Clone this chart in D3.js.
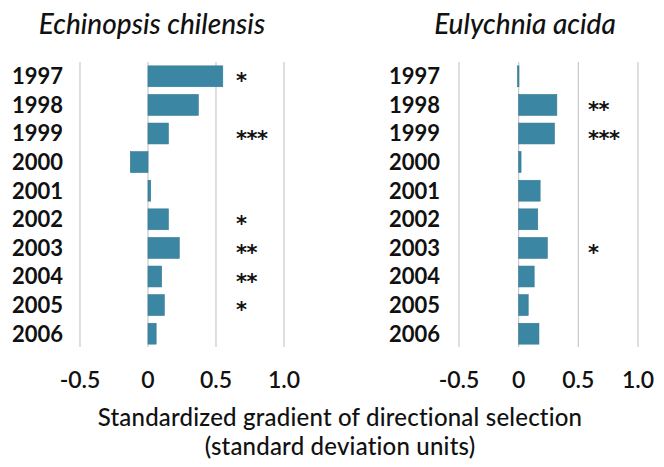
<!DOCTYPE html>
<html>
<head>
<meta charset="utf-8">
<script src="https://cdn.jsdelivr.net/npm/d3@7"></script>
<style>
  html, body { margin: 0; padding: 0; background: #fff; }
  svg { display: block; }
  text { font-family: Lato, "Open Sans", sans-serif; fill: #111; }
</style>
</head>
<body>
<svg id="chart" width="664" height="467"></svg>
<script>
const years = ["1997","1998","1999","2000","2001","2002","2003","2004","2005","2006"];
const echinopsisValues = [0.55, 0.37, 0.15, -0.13, 0.02, 0.15, 0.23, 0.10, 0.12, 0.06];
const echinopsisStars  = ["*", "", "***", "", "", "*", "**", "**", "*", ""];
const eulychniaValues  = [-0.01, 0.32, 0.30, 0.02, 0.18, 0.16, 0.24, 0.13, 0.08, 0.17];
const eulychniaStars   = ["", "**", "***", "", "", "", "*", "", "", ""];
const tickValues = [-0.5, 0, 0.5, 1.0];
const tickLabels = ["-0.5", "0", "0.5", "1.0"];
const panelTitles = ["Echinopsis chilensis", "Eulychnia acida"];
const axisTitle = ["Standardized gradient of directional selection", "(standard deviation units)"];

const svg = d3.select("#chart");
const barColor = "#3b87a3";

const y = d3.scaleBand().domain(years).range([62, 348]).paddingInner(0.27).paddingOuter(0.135);

const panels = [
  { title: panelTitles[0], values: echinopsisValues, stars: echinopsisStars,
    range: [80, 284], labelX: 63, starX: 236, titleX: 152 },
  { title: panelTitles[1], values: eulychniaValues, stars: eulychniaStars,
    range: [459, 638], labelX: 440, starX: 588, titleX: 525 }
];

panels.forEach(p => {
  const x = d3.scaleLinear().domain([-0.5, 1.0]).range(p.range);
  const g = svg.append("g");

  g.selectAll("line.grid").data(tickValues).join("line")
    .attr("x1", d => x(d)).attr("x2", d => x(d))
    .attr("y1", 62).attr("y2", 347)
    .attr("stroke", "#c9c9c9").attr("stroke-width", 1.2);

  g.selectAll("rect.bar").data(p.values).join("rect")
    .attr("x", d => x(Math.min(0, d)))
    .attr("width", d => Math.max(1.5, Math.abs(x(d) - x(0))))
    .attr("y", (d, i) => y(years[i]))
    .attr("height", y.bandwidth())
    .attr("fill", barColor)
    .attr("stroke", "#347a94").attr("stroke-width", 0.6);

  g.selectAll("text.year").data(years).join("text")
    .attr("x", p.labelX)
    .attr("y", d => y(d) + y.bandwidth() / 2)
    .attr("dy", "0.36em")
    .attr("text-anchor", "end")
    .attr("font-size", 22).attr("font-weight", 700)
    .text(d => d);

  g.selectAll("text.star").data(p.stars).join("text")
    .attr("x", p.starX)
    .attr("y", (d, i) => y(years[i]) + y.bandwidth() / 2 + 12)
    .attr("text-anchor", "start")
    .style("font-family", "'DejaVu Sans', sans-serif")
    .attr("font-size", 21).attr("font-weight", 700)
    .attr("letter-spacing", -0.5)
    .text(d => d);

  g.selectAll("text.tick").data(tickValues).join("text")
    .attr("x", d => x(d))
    .attr("y", 388)
    .attr("text-anchor", "middle")
    .attr("font-size", 23).attr("font-weight", 600)
    .text((d, i) => tickLabels[i]);

  g.append("text")
    .attr("x", p.titleX).attr("y", 34)
    .attr("text-anchor", "middle")
    .attr("font-size", 28).attr("font-style", "italic").attr("font-weight", 500)
    .text(p.title);
});

svg.selectAll("text.axtitle").data(axisTitle).join("text")
  .attr("x", 340).attr("y", (d, i) => 426 + i * 29)
  .attr("text-anchor", "middle")
  .attr("font-size", 24).attr("font-weight", 500)
  .attr("letter-spacing", 0.2)
  .text(d => d);
</script>
</body>
</html>
